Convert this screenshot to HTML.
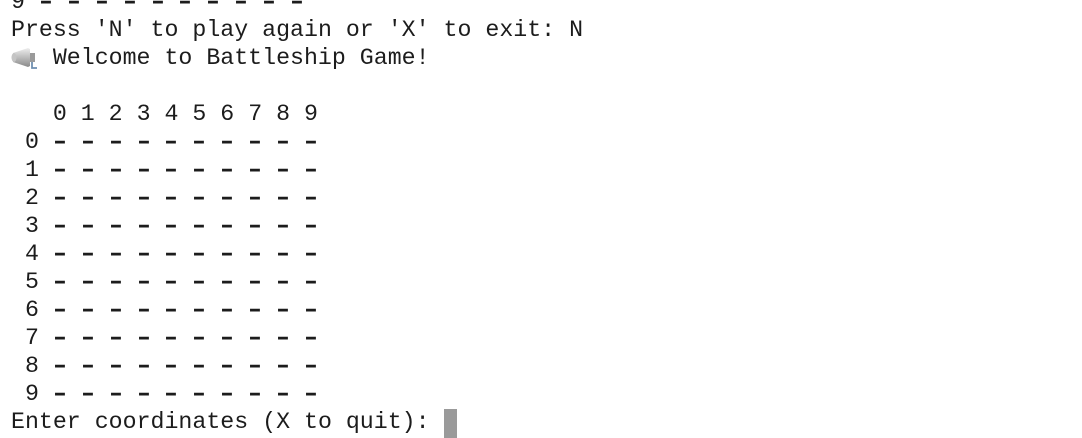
<!DOCTYPE html>
<html><head><meta charset="utf-8"><style>
html,body{margin:0;padding:0;background:#fff;width:1082px;height:438px;overflow:hidden}
pre{position:absolute;left:11px;top:-12px;margin:0;font-family:"Liberation Mono",monospace;font-size:23.25px;line-height:28px;color:#1c1c1c}
.d{display:inline-block;transform:scaleX(1.5);font-weight:bold}
.emo{display:inline-block;width:27.9px;height:28px;vertical-align:top;position:relative}
.emo svg{position:absolute;left:0px;top:3px}
.cur{display:inline-block;width:13px;height:29px;background:#9a9a9a;vertical-align:top;margin-top:1px}
</style></head><body>
<pre><span>9 <span class="d">-</span> <span class="d">-</span> <span class="d">-</span> <span class="d">-</span> <span class="d">-</span> <span class="d">-</span> <span class="d">-</span> <span class="d">-</span> <span class="d">-</span> <span class="d">-</span></span>
Press 'N' to play again or 'X' to exit: N
<span class="emo"><svg width="28" height="24" viewBox="0 0 28 24"><defs><linearGradient id="g" x1="0" y1="0" x2="0" y2="1"><stop offset="0" stop-color="#eeeeee"/><stop offset="1" stop-color="#8a8a8a"/></linearGradient></defs><path d="M2 6 L17 1 L19 2 L19 19 L17 20 L2 15 Z" fill="url(#g)"/><ellipse cx="3" cy="10.5" rx="2.5" ry="4.5" fill="#c4c4c4"/><rect x="19" y="6" width="5" height="9" fill="#9a9a9a"/><path d="M21 15 L21 21 L26 21" stroke="#6f8fb0" stroke-width="1.8" fill="none"/></svg></span> Welcome to Battleship Game!

   0 1 2 3 4 5 6 7 8 9
 0 <span class="d">-</span> <span class="d">-</span> <span class="d">-</span> <span class="d">-</span> <span class="d">-</span> <span class="d">-</span> <span class="d">-</span> <span class="d">-</span> <span class="d">-</span> <span class="d">-</span>
 1 <span class="d">-</span> <span class="d">-</span> <span class="d">-</span> <span class="d">-</span> <span class="d">-</span> <span class="d">-</span> <span class="d">-</span> <span class="d">-</span> <span class="d">-</span> <span class="d">-</span>
 2 <span class="d">-</span> <span class="d">-</span> <span class="d">-</span> <span class="d">-</span> <span class="d">-</span> <span class="d">-</span> <span class="d">-</span> <span class="d">-</span> <span class="d">-</span> <span class="d">-</span>
 3 <span class="d">-</span> <span class="d">-</span> <span class="d">-</span> <span class="d">-</span> <span class="d">-</span> <span class="d">-</span> <span class="d">-</span> <span class="d">-</span> <span class="d">-</span> <span class="d">-</span>
 4 <span class="d">-</span> <span class="d">-</span> <span class="d">-</span> <span class="d">-</span> <span class="d">-</span> <span class="d">-</span> <span class="d">-</span> <span class="d">-</span> <span class="d">-</span> <span class="d">-</span>
 5 <span class="d">-</span> <span class="d">-</span> <span class="d">-</span> <span class="d">-</span> <span class="d">-</span> <span class="d">-</span> <span class="d">-</span> <span class="d">-</span> <span class="d">-</span> <span class="d">-</span>
 6 <span class="d">-</span> <span class="d">-</span> <span class="d">-</span> <span class="d">-</span> <span class="d">-</span> <span class="d">-</span> <span class="d">-</span> <span class="d">-</span> <span class="d">-</span> <span class="d">-</span>
 7 <span class="d">-</span> <span class="d">-</span> <span class="d">-</span> <span class="d">-</span> <span class="d">-</span> <span class="d">-</span> <span class="d">-</span> <span class="d">-</span> <span class="d">-</span> <span class="d">-</span>
 8 <span class="d">-</span> <span class="d">-</span> <span class="d">-</span> <span class="d">-</span> <span class="d">-</span> <span class="d">-</span> <span class="d">-</span> <span class="d">-</span> <span class="d">-</span> <span class="d">-</span>
 9 <span class="d">-</span> <span class="d">-</span> <span class="d">-</span> <span class="d">-</span> <span class="d">-</span> <span class="d">-</span> <span class="d">-</span> <span class="d">-</span> <span class="d">-</span> <span class="d">-</span>
Enter coordinates (X to quit): <span class="cur"></span></pre>
</body></html>
